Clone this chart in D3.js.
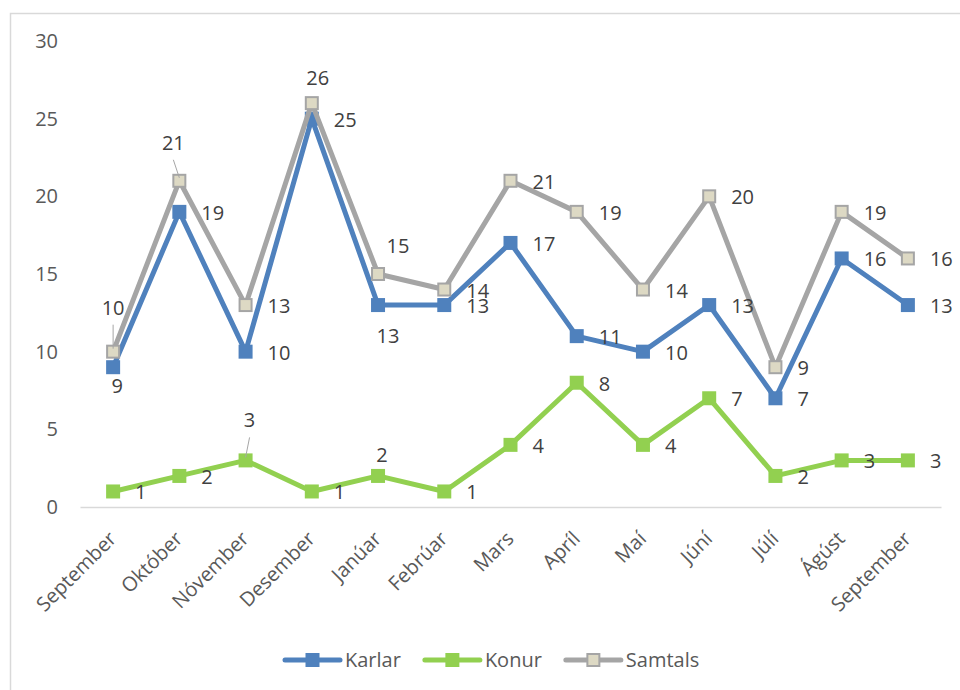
<!DOCTYPE html>
<meta charset="utf-8">
<style>
body { margin: 0; background: #fff; }
text { font-family: 'Open Sans', sans-serif; }
.axis text { fill: #595959; font-size: 20px; }
.lbl { fill: #404040; font-size: 20px; }
</style>
<body>
<div id="chart"></div>
<script src="https://d3js.org/d3.v7.min.js"></script>
<script>
// month labels along the x axis
var months = ["September", "Október", "Nóvember", "Desember", "Janúar", "Febrúar",
              "Mars", "Apríl", "Maí", "Júní", "Júlí", "Ágúst", "September"];
var karlar  = [9, 19, 10, 25, 13, 13, 17, 11, 10, 13, 7, 16, 13];
var konur   = [1, 2, 3, 1, 2, 1, 4, 8, 4, 7, 2, 3, 3];
var samtals = [10, 21, 13, 26, 15, 14, 21, 19, 14, 20, 9, 19, 16];
var yTicks  = [0, 5, 10, 15, 20, 25, 30];

var series = [
  {name: "Karlar",  values: karlar,  color: "#4F81BD", fill: "#4F81BD", stroke: null},
  {name: "Konur",   values: konur,   color: "#92D050", fill: "#92D050", stroke: null},
  {name: "Samtals", values: samtals, color: "#A5A5A5", fill: "#DDD9C4", stroke: "#A5A5A5"}
];

// labels that are not placed to the right of their point: [dx, dy] of label centre, leader?
var labelMoves = {
  Karlar:  {0: [4, 19], 4: [10, 31]},
  Konur:   {2: [4, -40, true], 4: [4, -21]},
  Samtals: {0: [0, -44, true], 1: [-6, -38, true], 3: [6, -25], 4: [20, -28]}
};

var width = 960, height = 690;

var svg = d3.select("#chart").append("svg")
    .attr("width", width)
    .attr("height", height);

svg.append("rect")
    .attr("x", 10.5).attr("y", 13.5)
    .attr("width", 980).attr("height", 700)
    .attr("fill", "none")
    .attr("stroke", "#D9D9D9")
    .attr("stroke-width", 1.5);

var x = d3.scalePoint().domain(d3.range(months.length)).range([80, 941]).padding(0.5);
var y = d3.scaleLinear().domain([0, 30]).range([507, 41]);

// x axis
var xAxis = svg.append("g")
    .attr("class", "axis")
    .attr("transform", "translate(0,507)")
    .call(d3.axisBottom(x).tickSize(0).tickSizeOuter(0).tickFormat(function(i) { return months[i]; }));
xAxis.select(".domain").attr("stroke", "#D9D9D9").attr("stroke-width", 1.5);
xAxis.selectAll("text")
    .attr("x", 0).attr("y", 0).attr("dy", 0)
    .style("text-anchor", "end")
    .attr("transform", "translate(4,33) rotate(-45)");

// y axis
var yAxis = svg.append("g")
    .attr("class", "axis")
    .attr("transform", "translate(58,0)")
    .call(d3.axisLeft(y).tickValues(yTicks).tickSize(0).tickPadding(0));
yAxis.select(".domain").remove();

var line = d3.line()
    .x(function(d, i) { return x(i); })
    .y(function(d) { return y(d); });

series.forEach(function(s) {
  svg.append("path")
      .datum(s.values)
      .attr("d", line)
      .attr("fill", "none")
      .attr("stroke", s.color)
      .attr("stroke-width", 5)
      .attr("stroke-linejoin", "round");

  var size = s.stroke ? 12 : 14;
  svg.selectAll(null)
      .data(s.values)
      .enter().append("rect")
      .attr("x", function(d, i) { return x(i) - size / 2; })
      .attr("y", function(d) { return y(d) - size / 2; })
      .attr("width", size)
      .attr("height", size)
      .attr("fill", s.fill)
      .attr("stroke", s.stroke || "none")
      .attr("stroke-width", 2);
});

// data labels on top
series.forEach(function(s) {
  var moves = labelMoves[s.name];
  s.values.forEach(function(v, i) {
    var px = x(i), py = y(v), m = moves[i];
    if (m) {
      if (m[2]) {
        svg.append("line")
            .attr("x1", px + m[0]).attr("y1", py + m[1] + 17)
            .attr("x2", px).attr("y2", py - 3)
            .attr("stroke", "#A6A6A6").attr("stroke-width", 1);
      }
      svg.append("text").attr("class", "lbl")
          .attr("x", px + m[0]).attr("y", py + m[1] + 7)
          .attr("text-anchor", "middle")
          .text(v);
    } else {
      svg.append("text").attr("class", "lbl")
          .attr("x", px + 22).attr("y", py + 8)
          .text(v);
    }
  });
});

// legend
var lx = 285, ly = 660;
series.forEach(function(s) {
  var g = svg.append("g");
  g.append("line")
      .attr("x1", lx).attr("x2", lx + 55)
      .attr("y1", ly).attr("y2", ly)
      .attr("stroke", s.color).attr("stroke-width", 5)
      .attr("stroke-linecap", "round");
  var size = s.stroke ? 12 : 14;
  g.append("rect")
      .attr("x", lx + 27.5 - size / 2).attr("y", ly - size / 2)
      .attr("width", size).attr("height", size)
      .attr("fill", s.fill)
      .attr("stroke", s.stroke || "none").attr("stroke-width", 2);
  var t = g.append("text")
      .attr("x", lx + 60).attr("y", ly + 7)
      .attr("fill", "#595959").style("font-size", "20px")
      .text(s.name);
  lx += 60 + t.node().getComputedTextLength() + 24;
});
</script>
</body>
